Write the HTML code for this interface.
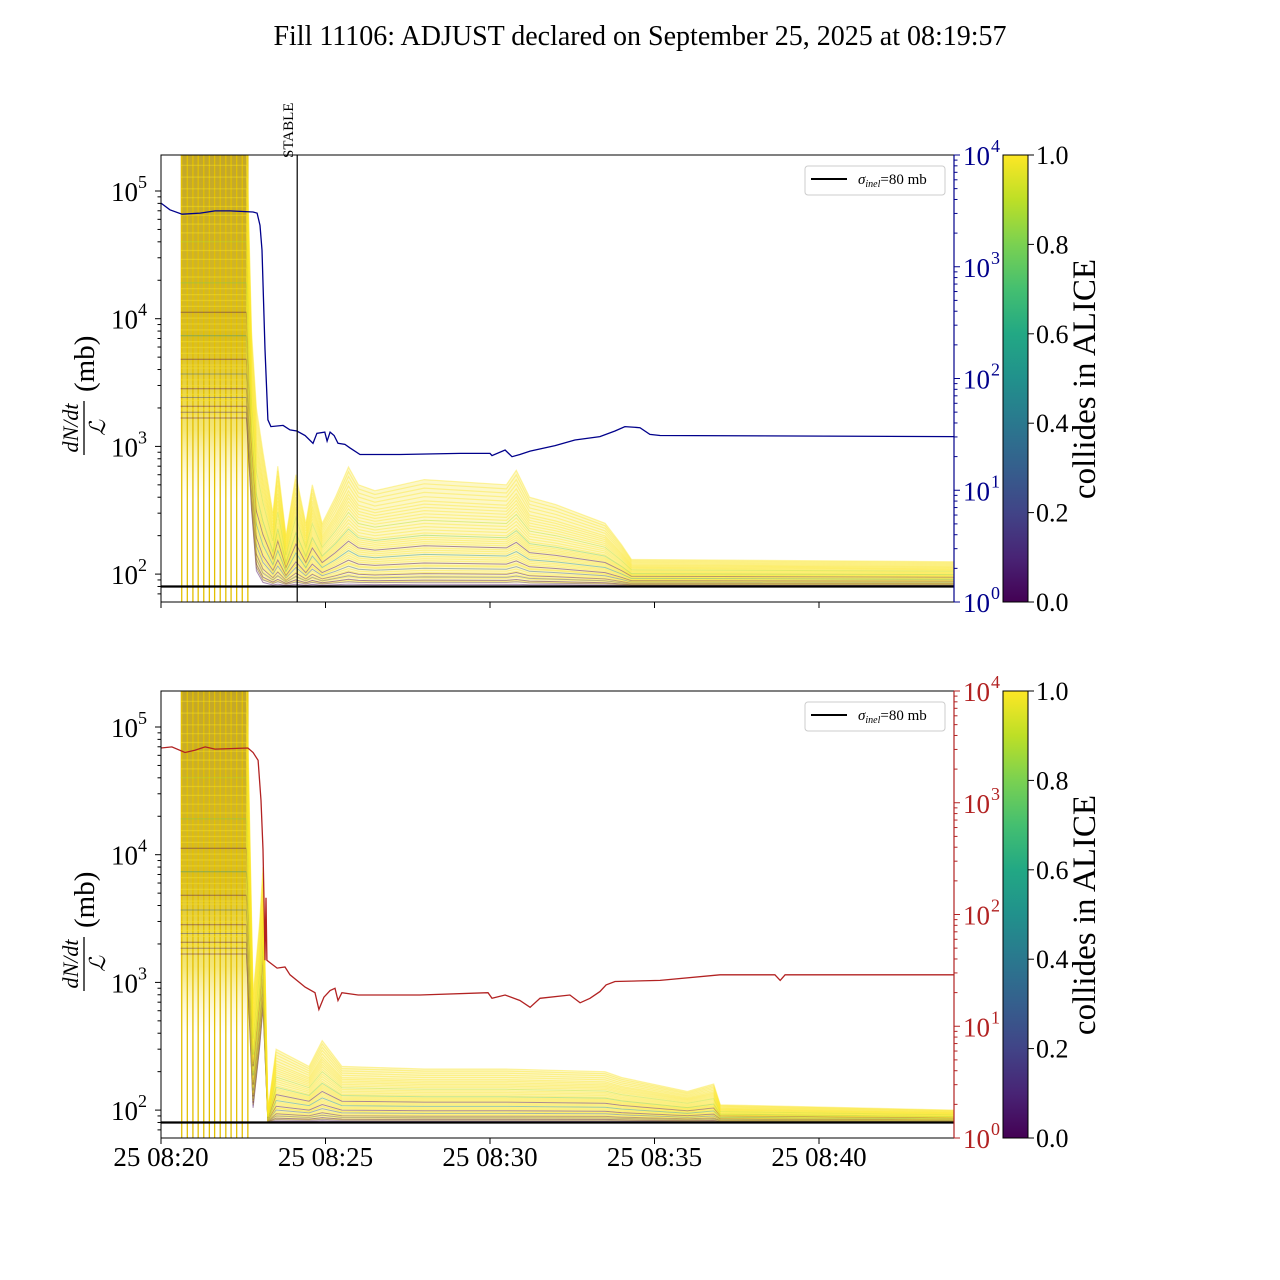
<!DOCTYPE html>
<html><head><meta charset="utf-8"><style>
html,body{margin:0;padding:0;background:#fff;}
svg{display:block;font-family:"Liberation Serif","DejaVu Serif",serif;}
</style></head><body>
<svg id="chart" width="1280" height="1280" viewBox="0 0 1280 1280" xmlns="http://www.w3.org/2000/svg">
<defs>
<linearGradient id="viridis" x1="0" y1="1" x2="0" y2="0">
<stop offset="0" stop-color="#440154"/><stop offset="0.1" stop-color="#482475"/><stop offset="0.2" stop-color="#414487"/><stop offset="0.3" stop-color="#355f8d"/><stop offset="0.4" stop-color="#2a788e"/><stop offset="0.5" stop-color="#21918c"/><stop offset="0.6" stop-color="#22a884"/><stop offset="0.7" stop-color="#44bf70"/><stop offset="0.8" stop-color="#7ad151"/><stop offset="0.9" stop-color="#bddf26"/><stop offset="1" stop-color="#fde725"/>
</linearGradient>
<linearGradient id="bandGradTop" gradientUnits="userSpaceOnUse" x1="0" y1="155" x2="0" y2="500">
<stop offset="0" stop-color="#c2a62a"/><stop offset="0.55" stop-color="#d9be26"/><stop offset="0.8" stop-color="#f0dc40" stop-opacity="0.7"/><stop offset="1" stop-color="#fff2a0" stop-opacity="0"/>
</linearGradient>
<linearGradient id="bandGradBot" gradientUnits="userSpaceOnUse" x1="0" y1="691" x2="0" y2="1036">
<stop offset="0" stop-color="#c2a62a"/><stop offset="0.55" stop-color="#d9be26"/><stop offset="0.8" stop-color="#f0dc40" stop-opacity="0.7"/><stop offset="1" stop-color="#fff2a0" stop-opacity="0"/>
</linearGradient>
<clipPath id="clipTop"><rect x="161" y="155" width="793" height="447"/></clipPath>
<clipPath id="clipBot"><rect x="161" y="691" width="793" height="447"/></clipPath>
</defs>
<text x="640" y="45" font-size="28" text-anchor="middle">Fill 11106: ADJUST declared on September 25, 2025 at 08:19:57</text>
<g id="layer"></g>
</svg>
<script>
// ---- data ----
const xTickLabels = ["25 08:20","25 08:25","25 08:30","25 08:35","25 08:40"];
const xTickMinutes = [0,5,10,15,20];
const leftDecades = [2,3,4,5];
const rightDecades = [0,1,2,3,4];
const cbarTicks = [0.0,0.2,0.4,0.6,0.8,1.0];
const stableMinute = 4.14;
const sigmaInel = 80;
const scanLineMinutes = [0.63,0.8,0.97,1.13,1.3,1.47,1.63,1.8,1.97,2.13,2.3,2.47,2.64];

const tTop = [0.6,2.6,2.75,2.9,3.1,3.4,3.55,3.8,4.1,4.4,4.6,4.9,5.3,5.7,6.0,6.5,8,10.5,10.8,11.2,12,13.5,14,14.3,24.1];
const upperTop = [3e5,3e5,8000,2000,900,300,700,200,600,250,500,250,400,690,500,450,550,500,650,400,350,250,170,130,125];
const lowerTop = [1500,1500,300,100,82,80,80,80,80,80,80,80,80,80,80,80,80,80,80,80,80,80,80,80,80];

const tBot = [0.6,2.6,2.8,3.0,3.1,3.25,3.5,4.5,4.9,5.5,8,10.5,13.5,14,16,16.8,17,24.1];
const upperBot = [3e5,3e5,800,3000,8000,100,300,220,350,220,210,210,200,180,140,160,110,100];
const lowerBot = [1500,1500,100,300,600,80,80,80,80,80,80,80,80,80,80,80,80,80];

const bandFractions = [0.02,0.04,0.05,0.06,0.08,0.09,0.1,0.12,0.13,0.15,0.17,0.19,0.2,0.22,0.24,0.26,0.28,0.3,0.32,0.34,0.36,0.38,0.4,0.42,0.44,0.46,0.48,0.5,0.53,0.56,0.59,0.62,0.65,0.68,0.71,0.74,0.77,0.8,0.84,0.88,0.92,0.96,1.0];
const bandCollides = [0,0.1,1,0,1,0.2,1,0,1,1,0.3,1,1,0,1,1,1,0.5,1,1,1,0,1,1,1,1,0.8,1,1,1,1,0.9,1,1,1,1,1,1,1,1,1,1,1];

const tBlue = [0,0.27,0.64,1.19,1.64,2.10,2.80,2.92,3.01,3.07,3.16,3.25,3.34,3.71,3.92,4.13,4.38,4.62,4.74,4.98,5.05,5.14,5.26,5.38,5.59,5.74,6.05,7.26,9.09,10.0,10.06,10.46,10.67,10.91,11.22,11.98,12.58,13.34,13.80,14.1,14.56,14.86,15.17,24.1];
const logBlue = [3.57,3.51,3.47,3.48,3.50,3.50,3.49,3.48,3.37,3.15,2.26,1.63,1.57,1.58,1.54,1.53,1.49,1.42,1.51,1.52,1.44,1.52,1.49,1.42,1.41,1.38,1.32,1.32,1.33,1.33,1.31,1.36,1.30,1.32,1.35,1.40,1.45,1.48,1.53,1.57,1.56,1.50,1.49,1.48];

const tRed = [0,0.33,0.73,1.03,1.34,1.64,2.64,2.80,2.95,3.04,3.10,3.13,3.16,3.19,3.22,3.31,3.53,3.77,3.92,4.22,4.38,4.68,4.80,4.95,5.14,5.29,5.38,5.50,5.99,7.87,9.94,10.06,10.46,10.91,11.22,11.52,12.43,12.74,13.04,13.34,13.53,13.80,15.17,16.99,18.66,18.82,18.97,24.1];
const logRed = [3.49,3.50,3.45,3.47,3.50,3.48,3.49,3.45,3.38,3.02,2.58,2.13,1.59,2.15,1.59,1.57,1.52,1.53,1.46,1.39,1.35,1.30,1.15,1.26,1.32,1.34,1.23,1.30,1.28,1.28,1.30,1.25,1.28,1.23,1.17,1.25,1.28,1.21,1.25,1.31,1.37,1.40,1.41,1.46,1.46,1.41,1.46,1.46];

// ---- geometry ----
const X0=161, X1=954, PXMIN=32.9;
const panels=[{top:155,clip:'clipTop',grad:'bandGradTop',t:tTop,up:upperTop,lo:lowerTop,rt:tBlue,rl:logBlue,rc:'#00008b',name:'top'},
              {top:691,clip:'clipBot',grad:'bandGradBot',t:tBot,up:upperBot,lo:lowerBot,rt:tRed,rl:logRed,rc:'#b22222',name:'bottom'}];
const NS='http://www.w3.org/2000/svg';
const layer=document.getElementById('layer');
function mk(tag,attrs,parent){const e=document.createElementNS(NS,tag);for(const k in attrs)e.setAttribute(k,attrs[k]);(parent||layer).appendChild(e);return e;}
function xs(t){return X0+t*PXMIN;}
function yL(top,v){return top+36+(5-Math.log10(v))*127.7;}
function yR(top,lg){return top+(4-lg)*111.75;}
const vir=[[68,1,84],[72,36,117],[65,68,135],[53,95,141],[42,120,142],[33,145,140],[34,168,132],[68,191,112],[122,209,81],[189,223,38],[253,231,37]];
function viridis(c){const p=c*10,i=Math.min(9,Math.floor(p)),f=p-i;const a=vir[i],b=vir[i+1];return 'rgb('+[0,1,2].map(k=>Math.round(a[k]+(b[k]-a[k])*f)).join(',')+')';}

panels.forEach((P,pi)=>{
  const top=P.top, bot=top+447;
  const g=mk('g',{'clip-path':'url(#'+P.clip+')'});
  
  
  // envelope fill (between lowest and highest bunch)
  const upPts=P.t.map((t,j)=>xs(t).toFixed(1)+','+yL(top,P.up[j]).toFixed(1));
  const loPts=P.t.map((t,j)=>xs(t).toFixed(1)+','+yL(top,P.lo[j]*Math.pow(P.up[j]/P.lo[j],0.03)).toFixed(1)).reverse();
  const env=mk('polygon',{points:upPts.concat(loPts).join(' '),fill:'#f5e23a','fill-opacity':0.28,stroke:'none'},g);
  
  
  // dense band before stable beams
  const bx0=xs(scanLineMinutes[0]-0.03), bx1=xs(scanLineMinutes[scanLineMinutes.length-1]);
  const br=mk('rect',{x:bx0,y:top,width:bx1-bx0,height:447,fill:'url(#'+P.grad+')'},g);
  
  
  // scan lines
  scanLineMinutes.forEach(m=>{
    const l=mk('line',{x1:xs(m),x2:xs(m),y1:top,y2:bot,stroke:'#e3c000','stroke-width':1.3},g);
    
    
  });
  // band lines
  bandFractions.forEach((f,i)=>{
    const pts=P.t.map((t,j)=>{const lo=P.lo[j],up=P.up[j];const v=lo*Math.pow(up/lo,f);return xs(t).toFixed(1)+','+yL(top,v).toFixed(1);}).join(' ');
    const c=bandCollides[i];
    const pl=mk('polyline',{points:pts,fill:'none',stroke:viridis(c),'stroke-width':c<1?1:1.2,'stroke-opacity':c<1?0.45:0.4},g);
    
    
  });
  // sigma line
  const sl=mk('line',{x1:X0,x2:X1,y1:yL(top,sigmaInel),y2:yL(top,sigmaInel),stroke:'#000','stroke-width':2.2},g);
  
  
  // right line
  const rp=P.rt.map((t,j)=>xs(t).toFixed(1)+','+yR(top,P.rl[j]).toFixed(1)).join(' ');
  const rl=mk('polyline',{points:rp,fill:'none',stroke:P.rc,'stroke-width':1.3},g);
  
  
  if(pi===0){
    const st=mk('line',{x1:xs(stableMinute),x2:xs(stableMinute),y1:top,y2:bot,stroke:'#000','stroke-width':1.2},g);
    
    
    const sx=xs(stableMinute)-4;
    const stt=mk('text',{x:0,y:0,'font-size':15,transform:'translate('+sx+',158) rotate(-90)'});
    stt.textContent='STABLE';
    
    
  }
  // frame
  const fr=mk('rect',{x:X0,y:top,width:X1-X0,height:447,fill:'none',stroke:'#000','stroke-width':1});
  
  
  mk('line',{x1:X1,x2:X1,y1:top,y2:bot,stroke:P.rc,'stroke-width':1.2});
  // left ticks
  leftDecades.forEach(d=>{
    const y=yL(top,Math.pow(10,d));
    mk('line',{x1:X0-6,x2:X0,y1:y,y2:y,stroke:'#000'});
    const tx=mk('text',{x:X0-8-15,y:y+10,'font-size':27,'text-anchor':'end'});
    tx.textContent='10';
    
    
    const sp=mk('text',{x:X0-23,y:y-3,'font-size':18});
    sp.textContent=String(d);
    for(let k=2;k<10;k++){const yy=yL(top,k*Math.pow(10,d-1));if(yy>top&&yy<bot)mk('line',{x1:X0-3.5,x2:X0,y1:yy,y2:yy,stroke:'#000'});}
  });
  for(let k=2;k<10;k++){const yy=yL(top,k*1e5);if(yy>top&&yy<bot)mk('line',{x1:X0-3.5,x2:X0,y1:yy,y2:yy,stroke:'#000'});}
  // right ticks
  rightDecades.forEach(d=>{
    const y=yR(top,d);
    mk('line',{x1:X1,x2:X1+6,y1:y,y2:y,stroke:P.rc});
    const tx=mk('text',{x:X1+9,y:y+10,'font-size':27,fill:P.rc});
    tx.textContent='10';
    
    
    const sp=mk('text',{x:X1+37,y:y-3,'font-size':18,fill:P.rc});
    sp.textContent=String(d);
    if(d<4)for(let k=2;k<10;k++){const yy=yR(top,d+Math.log10(k));mk('line',{x1:X1,x2:X1+3.5,y1:yy,y2:yy,stroke:P.rc});}
  });
  // x ticks
  xTickMinutes.forEach((m,i)=>{
    const x=xs(m);
    mk('line',{x1:x,x2:x,y1:bot,y2:bot+6,stroke:'#000'});
    if(pi===1){const t=mk('text',{x:x,y:bot+28,'font-size':27,'text-anchor':'middle'});t.textContent=xTickLabels[i];
      
      }
  });
  // y label
  const yl=mk('g',{transform:'translate(84,'+(top+225)+') rotate(-90)'});
  
  
  const n=mk('text',{x:-48,y:-6,'font-size':22,'font-style':'italic','text-anchor':'middle'},yl);n.textContent='dN/dt';
  mk('line',{x1:-75,x2:-21,y1:0,y2:0,stroke:'#000','stroke-width':1.3},yl);
  const dd=mk('text',{x:-48,y:21,'font-size':22,'font-style':'italic','text-anchor':'middle'},yl);dd.textContent='ℒ';
  const mb=mk('text',{x:-12,y:10,'font-size':29},yl);mb.textContent='(mb)';
  // legend
  const lg=mk('g',{});
  
  
  mk('rect',{x:805,y:top+11,width:140,height:29,rx:3,fill:'#fff',stroke:'#ccc'},lg);
  mk('line',{x1:811,x2:847,y1:top+24,y2:top+24,stroke:'#000','stroke-width':2},lg);
  const lt=mk('text',{x:858,y:top+29,'font-size':15},lg);
  lt.innerHTML='<tspan font-style="italic">σ</tspan><tspan font-style="italic" font-size="10" dy="3">inel</tspan><tspan dy="-3">=80 mb</tspan>';
  // colorbar
  const cb=mk('rect',{x:1003,y:top,width:25,height:447,fill:'url(#viridis)',stroke:'#000','stroke-width':1});
  
  
  cbarTicks.forEach(v=>{
    const y=bot-v*447;
    mk('line',{x1:1028,x2:1034,y1:y,y2:y,stroke:'#000'});
    const t=mk('text',{x:1036,y:y+9,'font-size':26});t.textContent=v.toFixed(1);
    
    
  });
  const ct=mk('text',{x:0,y:0,'font-size':33,'text-anchor':'middle',transform:'translate(1095,'+(top+224)+') rotate(-90)'});
  ct.textContent='collides in ALICE';
  
  
});
</script>
</body></html>
